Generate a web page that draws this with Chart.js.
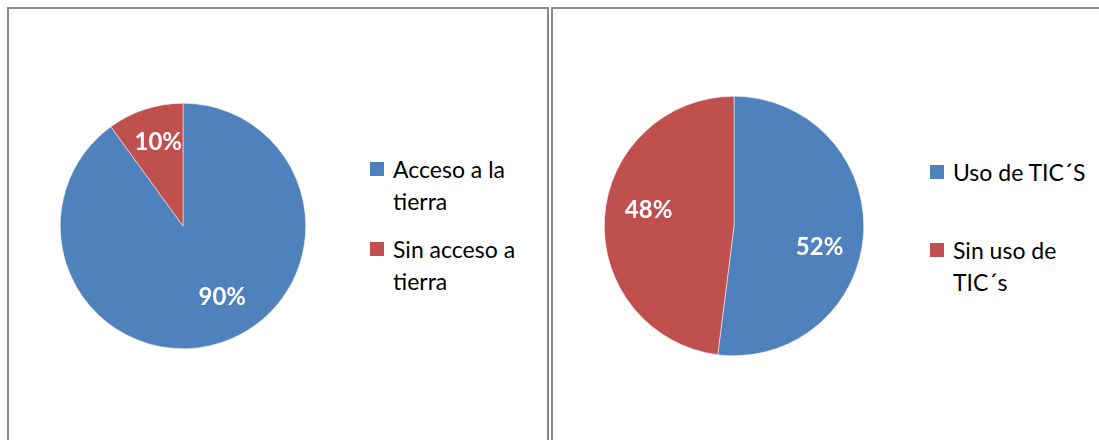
<!DOCTYPE html>
<html lang="es">
<head>
<meta charset="UTF-8">
<title>Acceso a la tierra / Uso de TIC</title>
<script src="https://cdn.jsdelivr.net/npm/chart.js"></script>
<style>
  body { margin: 0; width: 1099px; height: 440px; background: #fff; position: relative; overflow: hidden; font-family: Lato, "Open Sans", sans-serif; }
  .panel { position: absolute; top: 7px; height: 440px; border-top: 2px solid #8c8c8c; border-left: 2px solid #8c8c8c; box-sizing: border-box; }
  #p1 { left: 7px; width: 542px; border-right: 2px solid #8c8c8c; }
  #p2 { left: 551px; width: 560px; }
  canvas { position: absolute; }
  .leyenda { position: absolute; font-size: 23px; color: #000; line-height: 32px; }
  .item { position: absolute; white-space: nowrap; }
  .cuadro { position: absolute; left: 0; top: 9px; width: 14px; height: 14px; }
  .texto { position: absolute; left: 23px; top: 0; }
</style>
</head>
<body>
<div class="panel" id="p1"></div>
<div class="panel" id="p2"></div>

<canvas id="graficoTierra" width="290" height="290" style="left:38px; top:81px;"></canvas>
<canvas id="graficoTic" width="300" height="300" style="left:584px; top:76px;"></canvas>

<div class="leyenda" id="ley1" style="left:370px; top:153px;"></div>
<div class="leyenda" id="ley2" style="left:930px; top:156px;"></div>

<script>
// Datos
const etiquetasTierra = [['Acceso a la', 'tierra'], ['Sin acceso a', 'tierra']];
const valoresTierra = [90, 10];
const etiquetasTic = [['Uso de TIC´S'], ['Sin uso de', 'TIC´s']];
const valoresTic = [52, 48];
const colores = ['#4F81BD', '#C0504D'];

// Etiquetas de porcentaje dentro de cada sector (ajuste = [grados, fracción del radio])
const etiquetasPorcentaje = {
    id: 'etiquetasPorcentaje',
    afterDatasetsDraw(chart, args, opts) {
        const ctx = chart.ctx;
        const valores = chart.data.datasets[0].data;
        chart.getDatasetMeta(0).data.forEach((arco, i) => {
            const p = arco.getProps(['x', 'y', 'startAngle', 'endAngle', 'outerRadius'], true);
            const aj = (opts.ajuste && opts.ajuste[i]) || [0, 0.7];
            const medio = (p.startAngle + p.endAngle) / 2 + aj[0] * Math.PI / 180;
            const r = p.outerRadius * aj[1];
            ctx.save();
            ctx.fillStyle = '#fff';
            ctx.font = 'bold 24px Lato, "Open Sans", sans-serif';
            ctx.textAlign = 'center';
            ctx.textBaseline = 'middle';
            ctx.fillText(valores[i] + '%', p.x + Math.cos(medio) * r, p.y + Math.sin(medio) * r);
            ctx.restore();
        });
    }
};

function crearGrafico(id, valores, padding, ajuste) {
    new Chart(document.getElementById(id), {
        type: 'pie',
        data: {
            datasets: [{
                data: valores,
                backgroundColor: colores,
                borderColor: '#fff',
                borderWidth: 0.5
            }]
        },
        options: {
            responsive: false,
            animation: false,
            layout: { padding: padding },
            plugins: {
                legend: { display: false },
                tooltip: { enabled: false },
                etiquetasPorcentaje: { ajuste: ajuste }
            }
        },
        plugins: [etiquetasPorcentaje]
    });
}

function crearLeyenda(id, etiquetas, separacion) {
    const cont = document.getElementById(id);
    etiquetas.forEach((lineas, i) => {
        const item = document.createElement('div');
        item.className = 'item';
        item.style.top = (i * separacion) + 'px';
        item.innerHTML = '<div class="cuadro" style="background:' + colores[i] + '"></div>' +
            '<div class="texto">' + lineas.join('<br>') + '</div>';
        cont.appendChild(item);
    });
}

crearGrafico('graficoTierra', valoresTierra, 22, [[-11, 0.66], [1.5, 0.71]]);
crearGrafico('graficoTic', valoresTic, 20, [[10.5, 0.68], [7, 0.67]]);
crearLeyenda('ley1', etiquetasTierra, 80);
crearLeyenda('ley2', etiquetasTic, 78);
</script>
</body>
</html>
